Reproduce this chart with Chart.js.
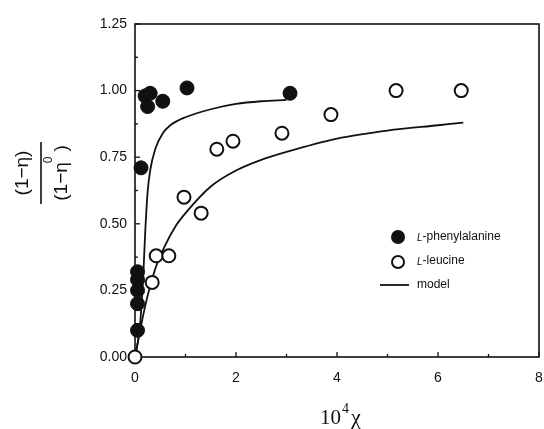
<!DOCTYPE html>
<html><head><meta charset="utf-8">
<script src="https://cdn.jsdelivr.net/npm/chart.js@4.4.1/dist/chart.umd.min.js"></script>
<style>html,body{margin:0;padding:0;background:#fff}#wrap{width:544px;height:429px}</style>
</head><body><div id="wrap"><canvas id="c" width="544" height="429"></canvas></div>
<script>
// Data
const pheX = [0.05, 0.05, 0.05, 0.05, 0.05, 0.12, 0.2, 0.3, 0.25, 0.55, 1.03, 3.07];
const pheY = [0.10, 0.20, 0.25, 0.29, 0.32, 0.71, 0.98, 0.99, 0.94, 0.96, 1.01, 0.99];
const leuX = [0.0, 0.34, 0.42, 0.67, 0.97, 1.31, 1.62, 1.94, 2.91, 3.88, 5.17, 6.46];
const leuY = [0.0, 0.28, 0.38, 0.38, 0.60, 0.54, 0.78, 0.81, 0.84, 0.91, 1.00, 1.00];
const pheModelX = [0, 0.05, 0.1, 0.13, 0.16, 0.2, 0.25, 0.3, 0.4, 0.55, 0.7, 1.0, 1.5, 2.0, 2.5, 3.0];
const pheModelY = [0, 0.05, 0.12, 0.20, 0.29, 0.46, 0.62, 0.70, 0.78, 0.84, 0.87, 0.90, 0.93, 0.95, 0.96, 0.965];
const leuModelX = [0, 0.2, 0.4, 0.6, 0.8, 1.0, 1.5, 2.0, 2.5, 3.0, 4.0, 5.0, 6.0, 6.5];
const leuModelY = [0, 0.19, 0.33, 0.42, 0.49, 0.54, 0.64, 0.70, 0.74, 0.77, 0.82, 0.85, 0.87, 0.88];
const xTicks = [0, 2, 4, 6, 8];
const yTicks = [0.00, 0.25, 0.50, 0.75, 1.00, 1.25];
const legendLabels = ['-phenylalanine', '-leucine', 'model'];

const pts = (xs, ys) => xs.map((x, i) => ({x, y: ys[i]}));
const INK = '#111';

const framePlugin = {
  id: 'frame',
  beforeDatasetsDraw(chart) {
    const {ctx, chartArea: a, scales: {x, y}} = chart;
    ctx.save();
    ctx.strokeStyle = INK; ctx.lineWidth = 1.6;
    ctx.strokeRect(a.left, a.top, a.right - a.left, a.bottom - a.top);
    ctx.lineWidth = 1.3;
    for (let v = 0; v <= 8; v += 1) {
      const px = x.getPixelForValue(v);
      const len = v % 2 === 0 ? 5 : 3;
      ctx.beginPath(); ctx.moveTo(px, a.bottom); ctx.lineTo(px, a.bottom - len); ctx.stroke();
    }
    for (let k = 0; k <= 10; k++) {
      const v = k * 0.125;
      const py = y.getPixelForValue(v);
      const len = k % 2 === 0 ? 5 : 3;
      ctx.beginPath(); ctx.moveTo(a.left, py); ctx.lineTo(a.left + len, py); ctx.stroke();
    }
    ctx.restore();
  },
  afterDraw(chart) {
    const {ctx} = chart;
    ctx.save();
    ctx.strokeStyle = INK;
    // legend
    ctx.fillStyle = INK;
    ctx.beginPath(); ctx.arc(398, 237, 7, 0, Math.PI * 2); ctx.fill();
    ctx.beginPath(); ctx.arc(398, 262, 6, 0, Math.PI * 2);
    ctx.fillStyle = '#fff'; ctx.fill(); ctx.lineWidth = 2; ctx.stroke();
    ctx.lineWidth = 1.8;
    ctx.beginPath(); ctx.moveTo(380, 285); ctx.lineTo(409, 285); ctx.stroke();
    ctx.fillStyle = INK; ctx.textBaseline = 'middle'; ctx.textAlign = 'left';
    const rows = [237, 261, 285];
    for (let i = 0; i < 3; i++) {
      let xx = 417;
      if (i < 2) {
        ctx.font = 'italic 10px "Liberation Sans", Arial, sans-serif';
        ctx.fillText('L', xx, rows[i] + 1);
        xx += ctx.measureText('L').width;
      }
      ctx.font = '12px "Liberation Sans", Arial, sans-serif';
      ctx.fillText(legendLabels[i], xx, rows[i]);
    }
    // x title 10^4 chi
    ctx.textBaseline = 'alphabetic';
    ctx.font = '21px "Liberation Serif", "Times New Roman", serif';
    ctx.fillText('10', 320, 424);
    let w = ctx.measureText('10').width;
    ctx.font = '14px "Liberation Serif", "Times New Roman", serif';
    ctx.fillText('4', 320 + w + 1, 413);
    ctx.font = '22px "Liberation Serif", "Times New Roman", serif';
    ctx.fillText('\u03c7', 320 + w + 10, 424);
    // y title fraction
    ctx.translate(41, 173);
    ctx.rotate(-Math.PI / 2);
    ctx.textAlign = 'center'; ctx.textBaseline = 'middle';
    ctx.font = '19px "Liberation Sans", Arial, sans-serif';
    ctx.fillText('(1\u2212\u03b7)', 0, -18);
    ctx.fillText('(1\u2212\u03b7  )', 0, 21);
    ctx.font = '12px "Liberation Sans", Arial, sans-serif';
    ctx.fillText('0', 13, 8);
    ctx.lineWidth = 1.6;
    ctx.beginPath(); ctx.moveTo(-31, 0); ctx.lineTo(31, 0); ctx.stroke();
    ctx.restore();
  }
};

new Chart(document.getElementById('c'), {
  type: 'scatter',
  data: {
    datasets: [
      { label: 'L-phenylalanine', data: pts(pheX, pheY), order: 0, clip: false,
        pointRadius: 7, pointBackgroundColor: INK, pointBorderColor: INK, pointBorderWidth: 1, showLine: false },
      { label: 'L-leucine', data: pts(leuX, leuY), order: 0, clip: false,
        pointRadius: 6.5, pointBackgroundColor: '#fff', pointBorderColor: INK, pointBorderWidth: 2, showLine: false },
      { label: 'model', data: pts(pheModelX, pheModelY), order: 2, showLine: true,
        borderColor: INK, borderWidth: 1.8, pointRadius: 0, cubicInterpolationMode: 'monotone' },
      { label: 'model leu', data: pts(leuModelX, leuModelY), order: 2, showLine: true,
        borderColor: INK, borderWidth: 1.8, pointRadius: 0, cubicInterpolationMode: 'monotone' }
    ]
  },
  options: {
    responsive: false, animation: false,
    layout: { autoPadding: false, padding: { left: 0, right: 5, top: 24, bottom: 0 } },
    plugins: { legend: { display: false }, tooltip: { enabled: false } },
    scales: {
      x: {
        type: 'linear', min: 0, max: 8,
        afterBuildTicks: s => { s.ticks = xTicks.map(v => ({value: v})); },
        afterFit: s => { s.height = 72; s.paddingRight = 0; s.paddingLeft = 0; },
        grid: { drawOnChartArea: false, drawTicks: true, tickLength: 13, tickColor: 'rgba(0,0,0,0)' },
        border: { display: false },
        ticks: { padding: 0, color: INK, font: { size: 14, family: '"Liberation Sans", Arial, sans-serif' } }
      },
      y: {
        type: 'linear', min: 0, max: 1.25,
        afterBuildTicks: s => { s.ticks = yTicks.map(v => ({value: v})); },
        afterFit: s => { s.width = 135; s.paddingTop = 0; s.paddingBottom = 0; },
        grid: { drawOnChartArea: false, drawTicks: true, tickLength: 8, tickColor: 'rgba(0,0,0,0)' },
        border: { display: false },
        ticks: { padding: 0, color: INK, callback: v => Number(v).toFixed(2),
          font: { size: 14, family: '"Liberation Sans", Arial, sans-serif' } }
      }
    }
  },
  plugins: [framePlugin]
});
</script></body></html>
